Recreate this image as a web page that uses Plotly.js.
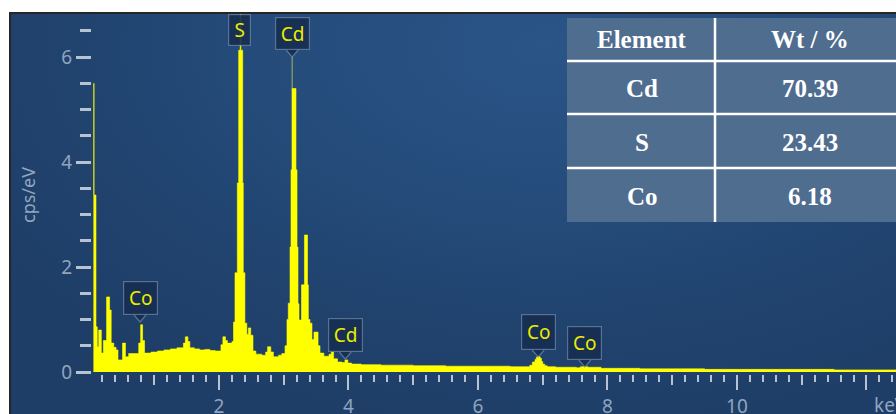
<!DOCTYPE html>
<html>
<head>
<meta charset="utf-8">
<script src="https://cdn.plot.ly/plotly-3.0.1.min.js"></script>
<style>
  html, body { margin:0; padding:0; background:#ffffff; width:896px; height:414px; overflow:hidden; }
  #bg { position:absolute; left:9px; top:12px; width:895px; height:410px;
        border-left:2px solid #262626; border-top:2px solid #262626;
        background: radial-gradient(ellipse 75% 95% at 60% 8%, #2a5587 0%, #254c7b 40%, #20426d 75%, #1e3e67 100%); }
  #chart { position:absolute; left:0; top:0; width:896px; height:414px; }
</style>
</head>
<body>
<div id="bg"></div>
<div id="chart"></div>
<script>
// ---- spectrum data (keV, cps/eV) ----
const energyKeV = [0.062,0.066,0.070,0.100,0.120,0.142,0.183,0.214,0.264,0.310,0.335,0.375,0.41,0.44,0.51,0.555,0.605,0.76,0.79,0.82,0.85,0.95,1.05,1.15,1.25,1.35,1.45,1.48,1.52,1.55,1.62,1.70,1.78,1.86,1.94,2.03,2.06,2.10,2.13,2.20,2.224,2.247,2.283,2.304,2.327,2.338,2.366,2.375,2.40,2.43,2.455,2.49,2.525,2.57,2.66,2.72,2.75,2.80,2.84,2.92,2.97,3.02,3.05,3.07,3.097,3.112,3.127,3.189,3.205,3.22,3.236,3.274,3.32,3.367,3.38,3.405,3.436,3.467,3.53,3.56,3.62,3.70,3.735,3.77,3.83,3.90,3.945,3.99,4.05,4.20,4.50,5.00,5.50,6.00,6.50,6.76,6.80,6.84,6.88,6.90,6.92,6.94,6.96,6.98,7.00,7.03,7.07,7.20,7.52,7.58,7.70,7.90,8.50,9.00,9.50,10.50,11.50,12.50];
const cpsPerEV = [0,5.5,3.37,0.86,0.48,0.80,0.36,0.60,1.43,1.18,0.55,0.47,0.42,0.23,0.55,0.29,0.35,0.55,0.90,0.60,0.36,0.38,0.40,0.42,0.44,0.46,0.55,0.67,0.58,0.46,0.44,0.42,0.43,0.41,0.40,0.52,0.67,0.60,0.55,0.58,0.95,1.89,3.60,6.13,7.5,6.13,3.60,1.89,0.93,0.72,0.84,0.70,0.40,0.34,0.32,0.38,0.48,0.38,0.29,0.32,0.35,0.50,1.00,1.31,2.38,3.85,5.40,3.85,2.38,1.30,0.99,1.66,2.61,1.66,1.00,0.93,0.62,0.76,0.50,0.36,0.30,0.34,0.38,0.25,0.19,0.18,0.23,0.17,0.15,0.14,0.13,0.12,0.11,0.11,0.10,0.10,0.13,0.19,0.24,0.28,0.30,0.29,0.26,0.20,0.15,0.12,0.10,0.09,0.08,0.10,0.09,0.07,0.06,0.06,0.05,0.05,0.04,0.04];

// ---- peak labels ----
const peakNames = ['Co','S','Cd','Cd','Co','Co'];
const peakEnergies = [0.78, 2.31, 3.13, 3.95, 6.93, 7.65];

// ---- axis ticks ----
const xTickVals = [2,4,6,8,10,12];
const xTickText = ['2','4','6','8','10',''];
const yTickVals = [0,2,4,6];
const yTickText = ['0','2','4','6'];

// ---- table ----
const tableHeader = ['Element','Wt / %'];
const tableElements = ['Cd','S','Co'];
const tableWt = ['70.39','23.43','6.18'];

// ---------- layout helpers ----------
const W = 896, H = 414;
const PX = p => p / W;           // pixel x -> paper
const PY = p => 1 - p / H;       // pixel y -> paper
const KEV_PER_PX = 1 / 64.75;

// label box layout (pixel positions, centre y / width / height / notch)
const boxCY = [298, 30, 33.5, 335, 332, 343];
const boxW  = [35, 23, 35, 35, 35, 35];
const boxH  = [34, 32, 33, 34, 36, 34];
const boxNotch = [true, false, true, true, true, true];

const tickCol = '#b7c3d2';
const labCol = '#8fa5bf';

const traces = [
  { x: energyKeV, y: cpsPerEV, type:'scatter', mode:'lines', line:{shape:'hv', color:'#ffff00', width:0.6},
    fill:'tozeroy', fillcolor:'#ffff00', hoverinfo:'skip', showlegend:false },
  { x:[1], y:[0], xaxis:'x2', yaxis:'y', type:'scatter', mode:'none', hoverinfo:'skip', showlegend:false }
];

const shapes = [];
const annotations = [];

// peak label boxes
peakNames.forEach((name, i) => {
  const e = peakEnergies[i];
  annotations.push({
    x: e, xref:'x', y: PY(boxCY[i]), yref:'paper', xanchor:'center', yanchor:'middle',
    text: name, showarrow:false, width: boxW[i]-2, height: boxH[i]-2,
    bgcolor:'rgba(22,46,80,0.9)', bordercolor:'rgba(135,160,190,0.55)', borderwidth:1.2, borderpad:0,
    font:{family:'Noto Sans, Open Sans, sans-serif', size:19, color:'#ecec00'}
  });
  if (boxNotch[i]) {
    const yb = boxCY[i] + boxH[i]/2;
    const dx = 6 * KEV_PER_PX;
    shapes.push({ type:'path', xref:'x', yref:'paper', layer:'above',
      path:`M ${e-dx},${PY(yb-0.5)} L ${e},${PY(yb+7)} L ${e+dx},${PY(yb-0.5)} Z`,
      fillcolor:'rgba(22,46,80,0.9)', line:{width:0} });
    shapes.push({ type:'path', xref:'x', yref:'paper', layer:'above',
      path:`M ${e-dx},${PY(yb)} L ${e},${PY(yb+7)} L ${e+dx},${PY(yb)}`,
      line:{color:'rgba(135,160,190,0.55)', width:1.2} });
  }
});
// Cd marker line from notch to peak
shapes.push({ type:'line', xref:'x', yref:'paper', x0:peakEnergies[2], x1:peakEnergies[2],
  y0:PY(boxCY[2]+boxH[2]/2+7), y1:PY(89), line:{color:'rgba(215,215,70,0.75)', width:1} });

// table
const tL = 567, tR = 905, tT = 18, tB = 222, tMid = 715;
const rowLines = [61, 114, 168];
shapes.push({ type:'rect', xref:'paper', yref:'paper', x0:PX(tL), x1:PX(tR), y0:PY(tT), y1:PY(tB),
  fillcolor:'#4f6d8f', line:{width:0}, layer:'above' });
shapes.push({ type:'line', xref:'paper', yref:'paper', x0:PX(tMid), x1:PX(tMid), y0:PY(tT), y1:PY(tB),
  line:{color:'#ffffff', width:2.5}, layer:'above' });
rowLines.forEach(r => shapes.push({ type:'line', xref:'paper', yref:'paper', x0:PX(tL), x1:PX(tR), y0:PY(r), y1:PY(r),
  line:{color:'#ffffff', width:2.5}, layer:'above' }));
const colC = [642, 810];
const rowC = [40, 88, 142, 196];
const tFont = {family:'Liberation Serif, Times New Roman, serif', size:25, color:'#ffffff'};
const cell = (txt, cx, cy) => annotations.push({ x:PX(cx), y:PY(cy), xref:'paper', yref:'paper',
  xanchor:'center', yanchor:'middle', text:'<b>'+txt+'</b>', showarrow:false, font:tFont });
tableHeader.forEach((h, j) => cell(h, colC[j], rowC[0]));
tableElements.forEach((el, i) => { cell(el, colC[0], rowC[i+1]); cell(tableWt[i], colC[1], rowC[i+1]); });

// axis titles
annotations.push({ x:PX(28), y:PY(195), xref:'paper', yref:'paper', text:'cps/eV', textangle:-90, showarrow:false,
  xanchor:'center', yanchor:'middle', font:{family:'Noto Sans, Open Sans, sans-serif', size:18, color:labCol} });
annotations.push({ x:PX(872), y:PY(405), xref:'paper', yref:'paper', text:'keV', showarrow:false,
  xanchor:'left', yanchor:'middle', font:{family:'Noto Sans, Open Sans, sans-serif', size:19, color:labCol} });

const layout = {
  width: W, height: H,
  margin: {l:0, r:0, t:0, b:0},
  paper_bgcolor:'rgba(0,0,0,0)', plot_bgcolor:'rgba(0,0,0,0)',
  showlegend:false,
  xaxis: {
    domain:[92/W, 1], range:[0.0386, 12.456], tickmode:'array', tickvals:xTickVals, ticktext:xTickText,
    ticks:'outside', ticklen:15, tickwidth:2, tickcolor:tickCol,
    showgrid:false, zeroline:false, showline:false, fixedrange:true,
    tickfont:{family:'Noto Sans, Open Sans, sans-serif', size:19, color:labCol},
    minor:{dtick:0.2, tick0:0, ticks:'outside', ticklen:7, tickwidth:2, tickcolor:tickCol, showgrid:false}
  },
  xaxis2: {
    overlaying:'x', anchor:'y', range:[0.0386, 12.456], dtick:1, tick0:0,
    ticks:'outside', ticklen:10, tickwidth:2, tickcolor:tickCol,
    showticklabels:false, showgrid:false, zeroline:false, showline:false, fixedrange:true
  },
  yaxis: {
    domain:[1-374/H, 1-14/H], range:[-0.0381, 6.819], tickmode:'array', tickvals:yTickVals, ticktext:yTickText,
    ticks:'outside', ticklen:15, tickwidth:3, tickcolor:tickCol,
    showgrid:false, zeroline:false, showline:false, fixedrange:true,
    tickfont:{family:'Noto Sans, Open Sans, sans-serif', size:19, color:labCol},
    minor:{dtick:0.5, tick0:0, ticks:'outside', ticklen:11, tickwidth:3, tickcolor:tickCol, showgrid:false}
  },
  shapes: shapes,
  annotations: annotations
};

Plotly.newPlot('chart', traces, layout, {staticPlot:true, displayModeBar:false});
</script>
</body>
</html>
